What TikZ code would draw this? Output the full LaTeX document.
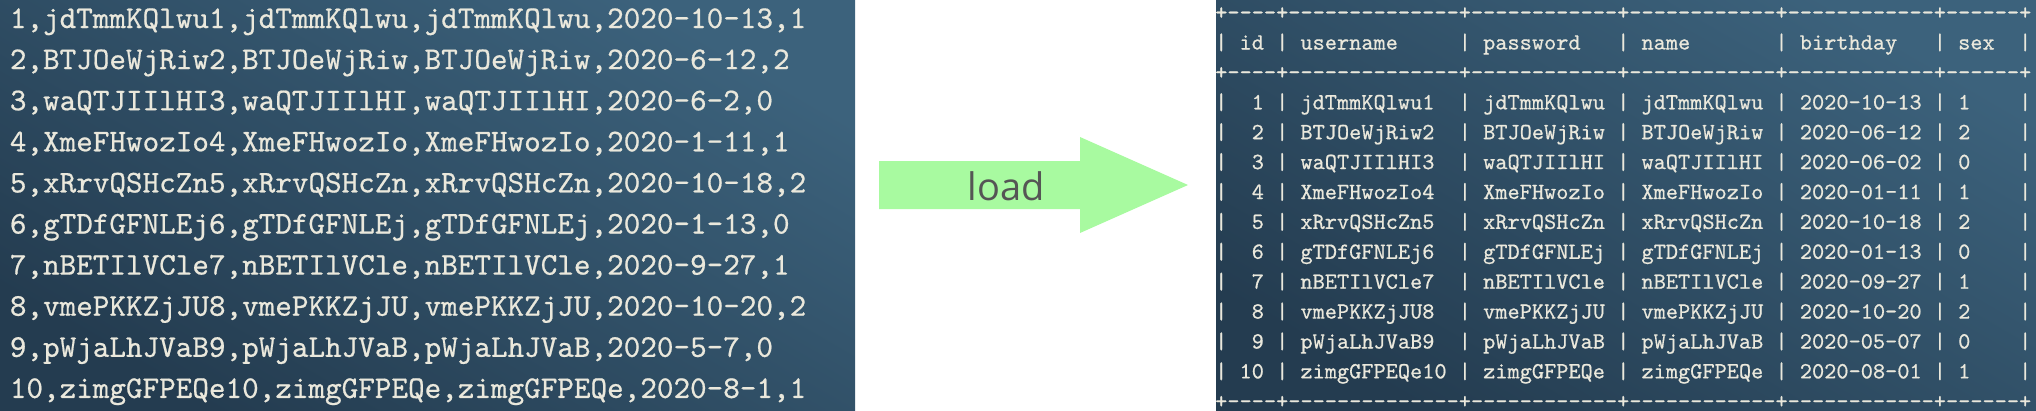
\documentclass[tikz,border=0pt]{standalone}
\usepackage{fontspec}
\newfontfamily\loadfont{Open Sans}
\newfontfamily\termfont{lmmono10-regular}[Extension=.otf,FakeBold=0.6]

\begin{document}
\begin{tikzpicture}[x=1pt,y=-1pt,
  csvline/.style={anchor=base west,inner sep=0pt,text=paneltext,
    font=\termfont\fontsize{31.6}{36}\selectfont},
  sqlline/.style={anchor=base west,inner sep=0pt,text=paneltext,
    font=\termfont\fontsize{23.2}{28}\selectfont}]

% Colors
\definecolor{paneldark}{RGB}{36,60,80}
\definecolor{panellight}{RGB}{60,98,124}
\definecolor{paneltext}{RGB}{234,232,220}
\definecolor{arrowgreen}{RGB}{168,250,160}
\definecolor{loadtext}{RGB}{85,85,85}

\useasboundingbox (0,0) rectangle (2036,410);

% Panels
\shade[bottom color=paneldark,top color=panellight,shading angle=-30]
  (0,0) rectangle (855,410);
\shade[bottom color=paneldark,top color=panellight,shading angle=-30]
  (1216,0) rectangle (2036,410);

% CSV file
\foreach \txt [count=\i] in {
  {1,jdTmmKQlwu1,jdTmmKQlwu,jdTmmKQlwu,2020-10-13,1},
  {2,BTJOeWjRiw2,BTJOeWjRiw,BTJOeWjRiw,2020-6-12,2},
  {3,waQTJIIlHI3,waQTJIIlHI,waQTJIIlHI,2020-6-2,0},
  {4,XmeFHwozIo4,XmeFHwozIo,XmeFHwozIo,2020-1-11,1},
  {5,xRrvQSHcZn5,xRrvQSHcZn,xRrvQSHcZn,2020-10-18,2},
  {6,gTDfGFNLEj6,gTDfGFNLEj,gTDfGFNLEj,2020-1-13,0},
  {7,nBETIlVCle7,nBETIlVCle,nBETIlVCle,2020-9-27,1},
  {8,vmePKKZjJU8,vmePKKZjJU,vmePKKZjJU,2020-10-20,2},
  {9,pWjaLhJVaB9,pWjaLhJVaB,pWjaLhJVaB,2020-5-7,0},
  {10,zimgGFPEQe10,zimgGFPEQe,zimgGFPEQe,2020-8-1,1}}
  \node[csvline] (csv\i) at (9.7,{28+41.1*(\i-1)}) {\txt};

% Arrow
\fill[arrowgreen] (879,161) -- (1080,161) -- (1080,137) -- (1188,185)
  -- (1080,233) -- (1080,209) -- (879,209) -- cycle;
\node[anchor=base,inner sep=0pt,text=loadtext,
  font=\loadfont\fontsize{38}{44}\selectfont] (load) at (1006,200) {load};

% Table
\foreach \txt [count=\k] in {
  {+----+--------------+------------+------------+------------+------+},
  {|~id~|~username~~~~~|~password~~~|~name~~~~~~~|~birthday~~~|~sex~~|},
  {+----+--------------+------------+------------+------------+------+},
  {|~~1~|~jdTmmKQlwu1~~|~jdTmmKQlwu~|~jdTmmKQlwu~|~2020-10-13~|~1~~~~|},
  {|~~2~|~BTJOeWjRiw2~~|~BTJOeWjRiw~|~BTJOeWjRiw~|~2020-06-12~|~2~~~~|},
  {|~~3~|~waQTJIIlHI3~~|~waQTJIIlHI~|~waQTJIIlHI~|~2020-06-02~|~0~~~~|},
  {|~~4~|~XmeFHwozIo4~~|~XmeFHwozIo~|~XmeFHwozIo~|~2020-01-11~|~1~~~~|},
  {|~~5~|~xRrvQSHcZn5~~|~xRrvQSHcZn~|~xRrvQSHcZn~|~2020-10-18~|~2~~~~|},
  {|~~6~|~gTDfGFNLEj6~~|~gTDfGFNLEj~|~gTDfGFNLEj~|~2020-01-13~|~0~~~~|},
  {|~~7~|~nBETIlVCle7~~|~nBETIlVCle~|~nBETIlVCle~|~2020-09-27~|~1~~~~|},
  {|~~8~|~vmePKKZjJU8~~|~vmePKKZjJU~|~vmePKKZjJU~|~2020-10-20~|~2~~~~|},
  {|~~9~|~pWjaLhJVaB9~~|~pWjaLhJVaB~|~pWjaLhJVaB~|~2020-05-07~|~0~~~~|},
  {|~10~|~zimgGFPEQe10~|~zimgGFPEQe~|~zimgGFPEQe~|~2020-08-01~|~1~~~~|},
  {+----+--------------+------------+------------+------------+------+}}
  \node[sqlline] (sql\k) at (1215,{19.6+29.9*(\k-1)}) {\txt};

\end{tikzpicture}
\end{document}
